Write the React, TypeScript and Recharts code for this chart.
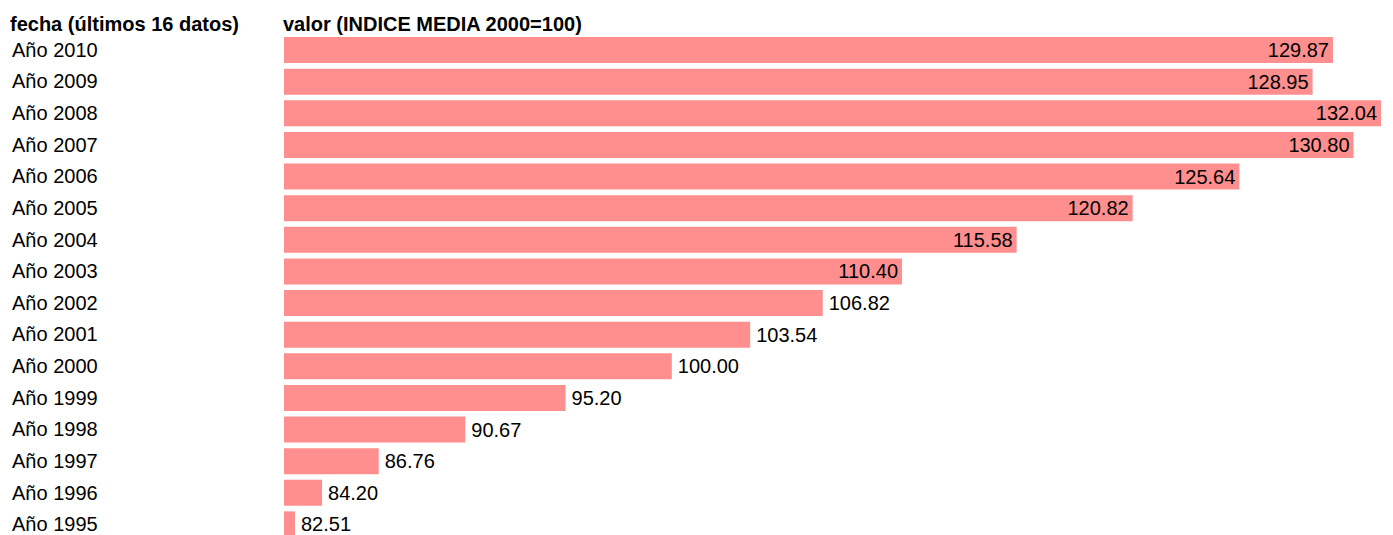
import { BarChart, Bar, XAxis, YAxis, LabelList } from 'recharts'

const years = ['Año 2010', 'Año 2009', 'Año 2008', 'Año 2007', 'Año 2006', 'Año 2005', 'Año 2004', 'Año 2003', 'Año 2002', 'Año 2001', 'Año 2000', 'Año 1999', 'Año 1998', 'Año 1997', 'Año 1996', 'Año 1995']
const values = [129.87, 128.95, 132.04, 130.8, 125.64, 120.82, 115.58, 110.4, 106.82, 103.54, 100.0, 95.2, 90.67, 86.76, 84.2, 82.51]

const data = years.map((label, i) => ({ label, value: values[i] }))

const FONT = '"Liberation Sans", Arial, sans-serif'
const BAR_COLOR = '#ff8f8f'
// bars at or above this value carry their label inside
const INSIDE_FROM = 110

const YearTick = (props: any) => {
  const { y, payload } = props
  return (
    <text x={12} y={y} dy="0.35em" textAnchor="start" fontSize={20} fontFamily={FONT} fill="#000">
      {payload.value}
    </text>
  )
}

const ValueLabel = (props: any) => {
  const { x, y, width, height, value } = props
  const inside = value >= INSIDE_FROM
  return (
    <text
      x={inside ? x + width - 4 : x + width + 6}
      y={y + height / 2}
      dy="0.35em"
      textAnchor={inside ? 'end' : 'start'}
      fontSize={20}
      fontFamily={FONT}
      fill="#000"
    >
      {Number(value).toFixed(2)}
    </text>
  )
}

export default function App() {
  return (
    <div style={{ position: 'absolute', left: 0, top: 0, width: 1393, height: 545, background: '#fff' }}>
      <svg width={1393} height={40} style={{ position: 'absolute', left: 0, top: 0 }}>
        <text x={10} y={31} fontSize={20} fontWeight="bold" fontFamily={FONT} fill="#000">
          fecha (últimos 16 datos)
        </text>
        <text x={283} y={31} fontSize={20} fontWeight="bold" fontFamily={FONT} fill="#000">
          valor (INDICE MEDIA 2000=100)
        </text>
      </svg>
      <div style={{ position: 'absolute', left: 0, top: 0 }}>
        <BarChart
          width={1393}
          height={545}
          data={data}
          layout="vertical"
          margin={{ top: 34, right: 12, bottom: 5, left: 0 }}
          barCategoryGap={3}
        >
          <XAxis type="number" domain={[82.48, 132.04]} allowDataOverflow hide />
          <YAxis
            type="category"
            dataKey="label"
            width={284}
            axisLine={false}
            tickLine={false}
            tick={<YearTick />}
            interval={0}
          />
          <Bar dataKey="value" fill={BAR_COLOR} minPointSize={11} isAnimationActive={false}>
            <LabelList dataKey="value" content={<ValueLabel />} />
          </Bar>
        </BarChart>
      </div>
    </div>
  )
}
